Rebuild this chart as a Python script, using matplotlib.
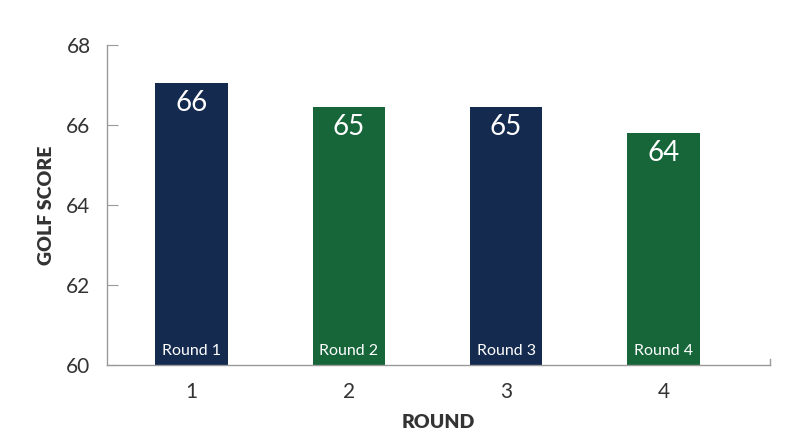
import matplotlib.pyplot as plt

# data
rounds = [1, 2, 3, 4]
scores = [67.05, 66.45, 66.45, 65.8]
value_labels = ["66", "65", "65", "64"]
round_names = ["Round 1", "Round 2", "Round 3", "Round 4"]
yticks = [60, 62, 64, 66, 68]

navy = "#152a4f"
green = "#17663a"
bar_colors = [navy, green, navy, green]

plt.rcParams['font.family'] = ['Lato', 'DejaVu Sans']

fig = plt.figure(figsize=(8, 4.47), dpi=100)
ax = fig.add_axes([0.134, 0.183, 0.829, 0.716])

ax.bar(rounds, [s - 60 for s in scores], bottom=60, width=0.46, color=bar_colors)

for x, s, lab, name in zip(rounds, scores, value_labels, round_names):
    ax.text(x, s - 0.5, lab, ha='center', va='center', color='white', fontsize=20)
    ax.text(x, 60.35, name, ha='center', va='center', color='white', fontsize=11.5)

ax.set_xlim(0.465, 4.68)
ax.set_ylim(60, 68)
ax.set_yticks(yticks)
ax.set_xticks(rounds)
ax.tick_params(axis='y', direction='in', length=8, color='#999999', labelsize=15,
               labelcolor='#333333', pad=12)
ax.tick_params(axis='x', length=0, labelsize=15, labelcolor='#333333', pad=12)

for side in ['top', 'right']:
    ax.spines[side].set_visible(False)
for side in ['left', 'bottom']:
    ax.spines[side].set_color('#999999')
    ax.spines[side].set_linewidth(1)

# small end mark at the right of the x axis
ax.plot([1, 1], [0, 0.02], transform=ax.transAxes, color='#999999', lw=1, clip_on=False)

ax.set_ylabel("GOLF SCORE", fontsize=14, fontweight='heavy', color='#333333', labelpad=8)
ax.set_xlabel("ROUND", fontsize=14, fontweight='heavy', color='#333333', labelpad=9)

fig.savefig("out.png", dpi=100)
